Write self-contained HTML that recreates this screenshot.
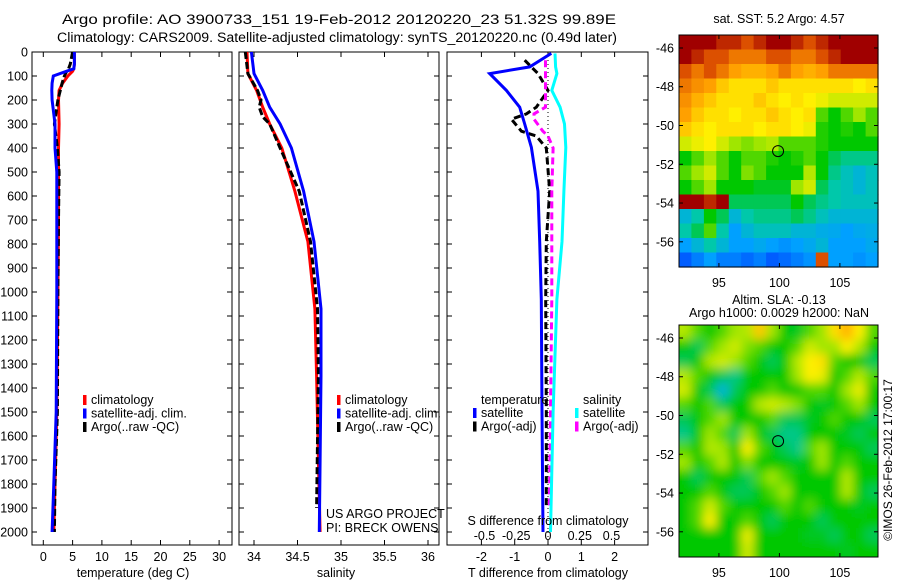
<!DOCTYPE html>
<html><head><meta charset="utf-8"><style>
body{margin:0;background:#fff;}
svg{display:block;font-family:"Liberation Sans",sans-serif;}
text{fill:#000;}
</style></head><body>
<svg id="fig" width="900" height="580" viewBox="0 0 900 580" xmlns="http://www.w3.org/2000/svg">
<text x="62" y="24" font-size="14" textLength="554" lengthAdjust="spacingAndGlyphs">Argo profile: AO 3900733_151 19-Feb-2012 20120220_23 51.32S 99.89E</text>
<text x="57" y="42" font-size="13.5" textLength="560" lengthAdjust="spacingAndGlyphs">Climatology: CARS2009. Satellite-adjusted climatology: synTS_20120220.nc (0.49d later)</text>
<g id="p1"></g>
<g id="p2"></g>
<g id="p3"></g>
<g id="m1"></g>
<g id="m2"></g>
<defs><filter id="blur" x="-0.2" y="-0.2" width="1.4" height="1.4"><feGaussianBlur stdDeviation="5"/></filter>
<clipPath id="c2"><rect x="679" y="325" width="199" height="232"/></clipPath></defs>
<text transform="translate(892,460) rotate(-90)" font-size="12" text-anchor="middle">©IMOS 26-Feb-2012 17:00:17</text>
</svg>
<script>
// ---- data ----
const tDepth = [0,50,70,80,100,130,160,200,300,400,500,700,1000,1500,1800,2000];
const tClim  = [5.3,5.3,5.2,5.0,4.2,3.3,2.7,2.6,2.7,2.6,2.6,2.6,2.5,2.3,2.0,1.8];
const tSat   = [5.3,5.3,5.2,4.0,1.7,1.5,1.45,1.5,2.0,2.0,2.3,2.3,2.3,2.2,1.8,1.5];
const tArgo  = [5.0,4.6,4.3,4.0,3.6,3.2,2.9,2.5,1.9,2.4,2.7,2.6,2.5,2.4,2.0,1.9];
const sDepth = [0,90,160,230,300,400,580,790,1070,1350,1700,2000];
const sClim  = [33.92,33.93,34.03,34.10,34.18,34.32,34.47,34.62,34.70,34.72,34.74,34.76];
const sSat   = [33.97,34.0,34.1,34.18,34.3,34.43,34.57,34.69,34.77,34.77,34.76,34.75];
const sArgoD = [0,90,160,200,230,270,300,400,580,790,1070,1350,1900];
const sArgo  = [33.9,33.93,34.04,34.08,34.06,34.1,34.18,34.3,34.52,34.65,34.73,34.74,34.72];
const dDepth = [6,62,90,160,230,300,398,580,790,1030,1500,2000];
const dTSat  = [0.1,-0.55,-1.75,-1.25,-0.85,-0.7,-0.5,-0.3,-0.25,-0.2,-0.18,-0.15];
const dSSat  = [0.055,0.06,0.07,0.03,0.095,0.13,0.14,0.125,0.11,0.07,0.04,0.02];
const dArgoD = [34,90,160,230,258,280,330,350,400,580,790,1030,1500,1900];
const dTArgo = [-0.7,-0.3,0,-0.35,-0.65,-1.1,-0.8,-0.35,-0.05,0.05,-0.05,-0.07,-0.05,-0.05];
const dSArgo = [-0.02,-0.02,-0.02,-0.02,-0.11,-0.11,-0.04,0.0,0.04,0.03,0.03,0.03,0.02,0.01];
const depthTicks = [0,100,200,300,400,500,600,700,800,900,1000,1100,1200,1300,1400,1500,1600,1700,1800,1900,2000];
const tTicks = [0,5,10,15,20,25,30];
const sTicks = [34,34.5,35,35.5,36];
const dTTicks = [-2,-1,0,1,2];
const dSTicks = [-0.5,-0.25,0,0.25,0.5];
const sstGrid = [
[1,1,1,.95,.95,.9,.95,1,1,.95,.9,.95,1,1,1,1],
[1,.95,.9,.9,.85,.85,.85,.9,.9,.85,.85,.9,.95,1,1,1],
[.9,.85,.9,.85,.8,.78,.78,.8,.85,.8,.78,.8,.85,.85,.85,.85],
[.85,.82,.8,.75,.72,.72,.72,.75,.72,.72,.72,.72,.72,.72,.7,.72],
[.82,.78,.75,.72,.72,.72,.75,.72,.7,.72,.7,.68,.65,.65,.65,.65],
[.8,.75,.72,.72,.7,.72,.72,.75,.72,.7,.72,.55,.5,.55,.6,.55],
[.75,.72,.7,.72,.72,.72,.7,.72,.72,.7,.68,.52,.5,.52,.5,.55],
[.65,.68,.7,.65,.6,.58,.6,.62,.55,.55,.55,.52,.5,.5,.5,.5],
[.5,.55,.6,.55,.5,.55,.55,.52,.5,.52,.55,.5,.45,.42,.42,.42],
[.55,.6,.65,.55,.5,.58,.55,.5,.5,.5,.62,.5,.42,.38,.35,.38],
[.5,.55,.6,.5,.5,.5,.48,.48,.48,.6,.65,.45,.4,.38,.35,.38],
[1,1,.95,1,.45,.45,.45,.45,.45,.5,.45,.42,.4,.38,.38,.38],
[.35,.4,.5,.45,.35,.4,.42,.42,.42,.45,.42,.38,.35,.35,.35,.35],
[.4,.45,.55,.4,.3,.35,.38,.38,.38,.35,.35,.33,.32,.3,.32,.33],
[.3,.35,.4,.35,.3,.3,.32,.3,.28,.3,.32,.35,.3,.3,.3,.32],
[.2,.25,.3,.25,.25,.22,.25,.2,.22,.25,.28,.9,.3,.3,.28,.3]];
const slaGrid = [
[.62,.55,.5,.55,.6,.62,.75,.6,.5,.48,.55,.6,.72,.78,.7,.55],
[.5,.45,.55,.6,.65,.58,.55,.5,.5,.55,.65,.6,.6,.7,.62,.5],
[.45,.5,.62,.65,.6,.55,.5,.45,.5,.62,.7,.72,.55,.5,.5,.45],
[.62,.55,.5,.45,.42,.5,.5,.5,.5,.6,.7,.68,.5,.55,.62,.55],
[.65,.5,.45,.35,.45,.5,.5,.55,.5,.5,.55,.55,.5,.6,.68,.5],
[.55,.5,.55,.45,.5,.5,.62,.65,.62,.58,.5,.48,.5,.55,.6,.5],
[.45,.5,.55,.6,.5,.5,.5,.55,.45,.45,.48,.5,.55,.5,.5,.45],
[.42,.5,.6,.55,.45,.6,.5,.45,.42,.42,.5,.5,.5,.48,.45,.5],
[.55,.5,.62,.6,.5,.7,.55,.5,.45,.42,.55,.6,.5,.5,.5,.45],
[.6,.5,.55,.62,.5,.58,.5,.5,.5,.48,.5,.6,.5,.55,.5,.5],
[.5,.45,.5,.5,.5,.45,.55,.6,.55,.5,.5,.5,.5,.62,.5,.5],
[.5,.5,.55,.5,.45,.45,.5,.55,.6,.5,.5,.5,.5,.62,.5,.45],
[.5,.55,.65,.55,.5,.5,.5,.5,.55,.5,.55,.5,.5,.5,.48,.5],
[.5,.55,.7,.5,.5,.55,.5,.45,.5,.5,.5,.45,.5,.5,.5,.5],
[.5,.5,.5,.5,.5,.68,.5,.5,.5,.5,.48,.48,.45,.5,.5,.45],
[.5,.5,.5,.5,.5,.65,.5,.5,.5,.5,.5,.5,.5,.48,.5,.5]];
const lonTicks = [95,100,105];
const latTicks = [-46,-48,-50,-52,-54,-56];
const floatPos = [99.89,-51.32];

// ---- helpers ----
const NS='http://www.w3.org/2000/svg';
function mk(parent,tag,attrs,txt){const e=document.createElementNS(NS,tag);for(const k in attrs)e.setAttribute(k,attrs[k]);if(txt!==undefined)e.textContent=txt;parent.appendChild(e);return e;}
const Y0=52, PXM=0.24, YB=545;
const yD=d=>Y0+d*PXM;
function frame(g,x0,x1,y0,y1){
  const r=mk(g,'rect',{x:x0,y:y0,width:x1-x0,height:y1-y0,fill:'none',stroke:'#000','stroke-width':1});
  
  
}
function line(g,xs,ds,xf,color,w,dash,name){
  const pts=xs.map((v,i)=>xf(v).toFixed(1)+','+yD(ds[i]).toFixed(1)).join(' ');
  const p=mk(g,'polyline',{points:pts,fill:'none',stroke:color,'stroke-width':w,'stroke-dasharray':dash||'none'});
  
  
}
function depthAxis(g,x0,x1,labels){
  depthTicks.forEach(d=>{
    const y=yD(d);
    mk(g,'line',{x1:x0,x2:x0+5,y1:y,y2:y,stroke:'#000'});
    mk(g,'line',{x1:x1-5,x2:x1,y1:y,y2:y,stroke:'#000'});
    if(labels){const t=mk(g,'text',{x:x0-4,y:y+4.5,'font-size':12.5,'text-anchor':'end'},String(d));
      
      }
  });
}
function xAxis(g,ticks,xf,ly,fmt,top){
  ticks.forEach(v=>{const x=xf(v);
    mk(g,'line',{x1:x,x2:x,y1:YB-5,y2:YB,stroke:'#000'});
    if(top) mk(g,'line',{x1:x,x2:x,y1:Y0,y2:Y0+5,stroke:'#000'});
    const t=mk(g,'text',{x:x,y:ly,'font-size':12.5,'text-anchor':'middle'},fmt?fmt(v):String(v));
    
    });
}
function legend(g,x,y,items){
  items.forEach((it,i)=>{
    mk(g,'rect',{x:x,y:y+i*13.5-9,width:3.5,height:10,fill:it[1]});
    const t=mk(g,'text',{x:x+8,y:y+i*13.5,'font-size':12.5},it[0]);
    
    
  });
}

// ---- panel 1 ----
const p1=document.getElementById('p1');
const xT=v=>43.3+v*5.86;
frame(p1,32,232,Y0,YB); depthAxis(p1,32,232,true);
xAxis(p1,tTicks,xT,561,null,true);
line(p1,tClim,tDepth,xT,'#f00',3,null,'temp-climatology-line');
line(p1,tArgo,tDepth,xT,'#000',3,'7 3','temp-argo-line');
line(p1,tSat,tDepth,xT,'#00f',3,null,'temp-satellite-line');
legend(p1,83,404,[['climatology','#f00'],['satellite-adj. clim.','#00f'],['Argo(..raw -QC)','#000']]);
mk(p1,'text',{x:133,y:577,'font-size':12.5,'text-anchor':'middle'},'temperature (deg C)');

// ---- panel 2 ----
const p2=document.getElementById('p2');
const xS=v=>254+(v-34)*87;
frame(p2,239,439,Y0,YB); depthAxis(p2,239,439,false);
xAxis(p2,sTicks,xS,561,null,true);
line(p2,sClim,sDepth,xS,'#f00',3,null,'sal-climatology-line');
line(p2,sArgo,sArgoD,xS,'#000',3,'7 3','sal-argo-line');
line(p2,sSat,sDepth,xS,'#00f',3,null,'sal-satellite-line');
legend(p2,337,404,[['climatology','#f00'],['satellite-adj. clim.','#00f'],['Argo(..raw -QC)','#000']]);
mk(p2,'text',{x:326,y:518,'font-size':12.5},'US ARGO PROJECT');
mk(p2,'text',{x:326,y:532,'font-size':12.5},'PI: BRECK OWENS');
mk(p2,'text',{x:336,y:577,'font-size':12.5,'text-anchor':'middle'},'salinity');

// ---- panel 3 ----
const p3=document.getElementById('p3');
const xDT=v=>548+v*33.3, xDS=v=>548+v*127;
frame(p3,447,648,Y0,YB); depthAxis(p3,447,648,false);
xAxis(p3,dTTicks,xDT,561,null,true);
dSTicks.forEach(v=>{const t=mk(p3,'text',{x:xDS(v),y:540,'font-size':12.5,'text-anchor':'middle'},v===0?'0':String(v));
  
  });
mk(p3,'line',{x1:548,x2:548,y1:Y0,y2:YB,stroke:'#000','stroke-dasharray':'1 3'});
line(p3,dTArgo,dArgoD,xDT,'#000',3,'7 4','tdiff-argo-line');
line(p3,dSArgo,dArgoD,xDS,'#f0f',3,'7 4','sdiff-argo-line');
line(p3,dSSat,dDepth,xDS,'#0ff',3,null,'sdiff-satellite-line');
line(p3,dTSat,dDepth,xDT,'#00f',3,null,'tdiff-satellite-line');
mk(p3,'text',{x:481,y:404,'font-size':12.5},'temperature');
mk(p3,'text',{x:583,y:404,'font-size':12.5},'salinity');
legend(p3,473,417,[['satellite','#00f'],['Argo(-adj)','#000']]);
legend(p3,575,417,[['satellite','#0ff'],['Argo(-adj)','#f0f']]);
mk(p3,'text',{x:548,y:525,'font-size':12.5,'text-anchor':'middle'},'S difference from climatology');
mk(p3,'text',{x:548,y:577,'font-size':12.5,'text-anchor':'middle'},'T difference from climatology');

// ---- maps ----
const stops=[[0,[0,0,140]],[.15,[0,60,255]],[.3,[0,160,255]],[.4,[0,200,170]],[.5,[0,200,0]],[.6,[160,230,0]],[.7,[255,240,0]],[.8,[255,160,0]],[.9,[220,80,0]],[1,[160,0,0]]];
function cmap(v){for(let i=1;i<stops.length;i++){if(v<=stops[i][0]){const a=stops[i-1],b=stops[i],f=(v-a[0])/(b[0]-a[0]);
  return 'rgb('+a[1].map((c,k)=>Math.round(c+(b[1][k]-c)*f)).join(',')+')';}}return 'rgb(160,0,0)';}
const LON0=91.7,LON1=108.15,LAT0=-45.33,LAT1=-57.3;
function drawMap(g,grid,top,title1,title2,blur){
  const x0=679,x1=878,y0=top,y1=top+232;
  const lx=v=>x0+(v-LON0)/(LON1-LON0)*(x1-x0), ly=v=>y0+(v-LAT0)/(LAT1-LAT0)*(y1-y0);
  let cg;
  if(blur){const outer=mk(g,'g',{'clip-path':'url(#c2)'});cg=mk(outer,'g',{filter:'url(#blur)'});}
  else cg=mk(g,'g',{});
  const nr=grid.length,nc=grid[0].length,cw=(x1-x0)/nc,ch=(y1-y0)/nr;
  const pad=blur?15:0;
  grid.forEach((row,r)=>row.forEach((v,c)=>{
    let rx=x0+c*cw, ry=y0+r*ch, rw=cw+0.6, rh=ch+0.6;
    if(c===0){rx-=pad;rw+=pad;} if(c===nc-1){rw+=pad;}
    if(r===0){ry-=pad;rh+=pad;} if(r===nr-1){rh+=pad;}
    const rc=mk(cg,'rect',{x:rx.toFixed(1),y:ry.toFixed(1),width:rw.toFixed(1),height:rh.toFixed(1),fill:cmap(v)});
    
    
  }));
  mk(g,'rect',{x:x0,y:y0,width:x1-x0,height:y1-y0,fill:'none',stroke:'#000'});
  lonTicks.forEach(v=>{const x=lx(v);mk(g,'line',{x1:x,x2:x,y1:y0,y2:y0+4,stroke:'#000'});mk(g,'line',{x1:x,x2:x,y1:y1-4,y2:y1,stroke:'#000'});
    mk(g,'text',{x:x,y:y1+20,'font-size':12.5,'text-anchor':'middle'},String(v));});
  latTicks.forEach(v=>{const y=ly(v);mk(g,'line',{x1:x0,x2:x0+4,y1:y,y2:y,stroke:'#000'});mk(g,'line',{x1:x1-4,x2:x1,y1:y,y2:y,stroke:'#000'});
    mk(g,'text',{x:x0-5,y:y+4.5,'font-size':12.5,'text-anchor':'end'},String(v));});
  const fc=mk(g,'circle',{cx:lx(floatPos[0]),cy:ly(floatPos[1]),r:5.5,fill:'none',stroke:'#000','stroke-width':1});
  
  
  if(title2){mk(g,'text',{x:779,y:top-21,'font-size':12.5,'text-anchor':'middle'},title1);
    mk(g,'text',{x:779,y:top-8,'font-size':12.5,'text-anchor':'middle'},title2);}
  else mk(g,'text',{x:779,y:top-12,'font-size':12.5,'text-anchor':'middle'},title1);
}
drawMap(document.getElementById('m1'),sstGrid,35,'sat. SST: 5.2 Argo: 4.57',null,false);
drawMap(document.getElementById('m2'),slaGrid,325,'Altim. SLA: -0.13','Argo h1000: 0.0029 h2000: NaN',true);
</script>
</body></html>
